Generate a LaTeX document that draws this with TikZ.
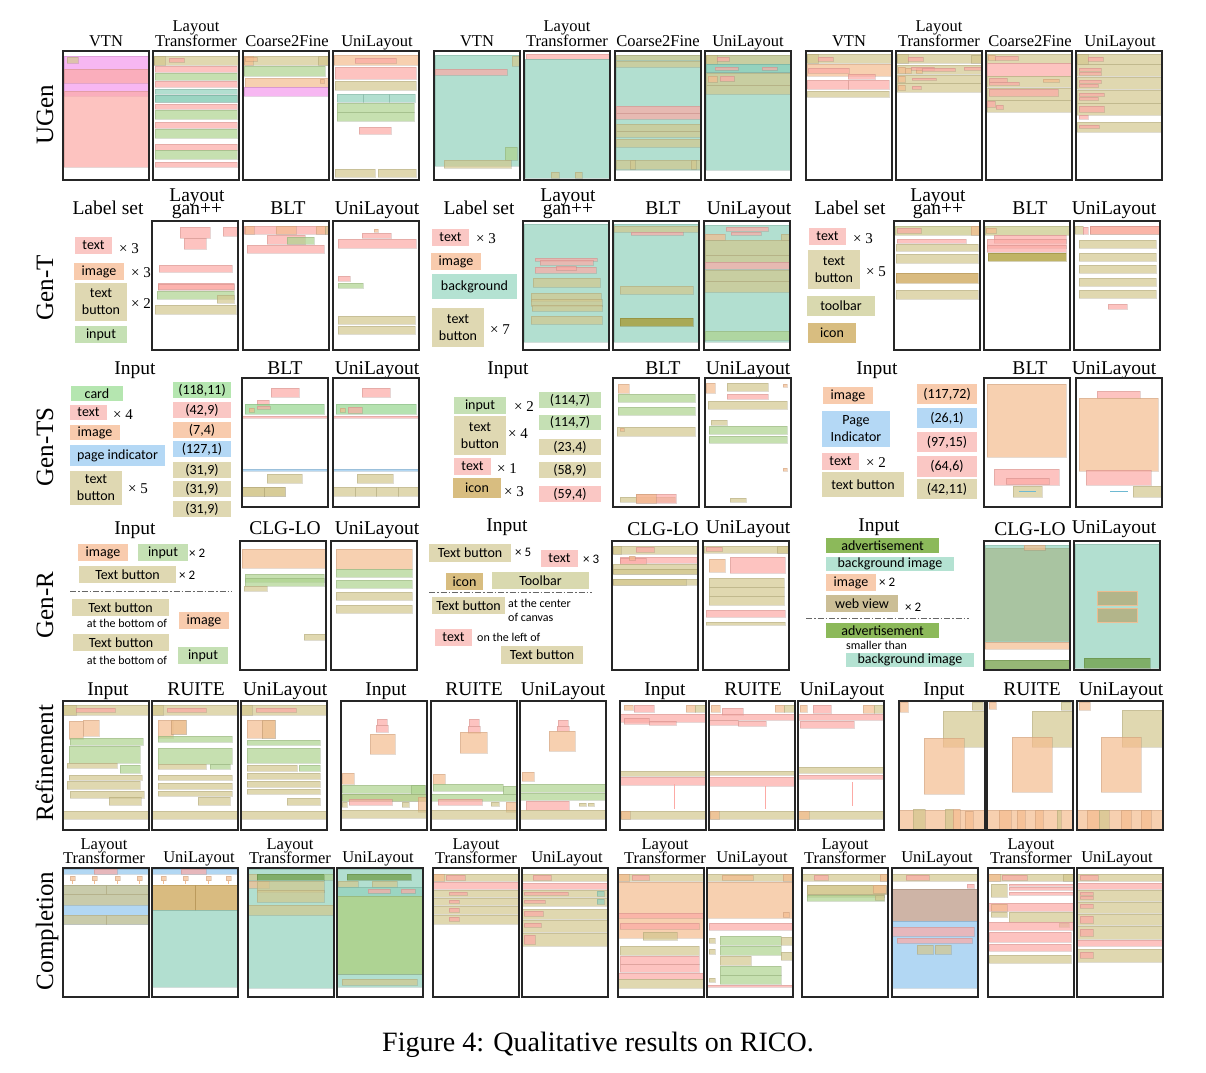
\documentclass[tikz,border=0pt]{standalone}
\usepackage{fontspec}
\setmainfont{Liberation Serif}
\newfontfamily\calibfont{Carlito}
\usetikzlibrary{calc}
\definecolor{bT}{RGB}{252,170,165}
\definecolor{bI}{RGB}{244,188,143}
\definecolor{bB}{RGB}{211,199,142}
\definecolor{bN}{RGB}{174,211,142}
\definecolor{bG}{RGB}{145,209,188}
\definecolor{bC}{RGB}{149,214,142}
\definecolor{bP}{RGB}{146,198,238}
\definecolor{bO}{RGB}{199,199,134}
\definecolor{bK}{RGB}{201,158,74}
\definecolor{bA}{RGB}{106,154,60}
\definecolor{bW}{RGB}{181,164,108}
\definecolor{bM}{RGB}{244,153,236}
\definecolor{bD}{RGB}{165,148,35}
\definecolor{bR}{RGB}{185,148,128}
\definecolor{cT}{RGB}{250,199,196}
\definecolor{cI}{RGB}{248,203,173}
\definecolor{cB}{RGB}{223,216,178}
\definecolor{cN}{RGB}{197,224,180}
\definecolor{cG}{RGB}{180,226,210}
\definecolor{cC}{RGB}{181,230,176}
\definecolor{cP}{RGB}{180,216,245}
\definecolor{cO}{RGB}{217,217,175}
\definecolor{cK}{RGB}{216,189,128}
\definecolor{cA}{RGB}{140,185,90}
\definecolor{cW}{RGB}{203,190,150}
\definecolor{cLO}{RGB}{169,196,161}
\definecolor{lineB}{RGB}{110,185,210}
\newcommand\rr[5]{\path[#1] (#2,#3) rectangle (#4,#5);}
\newcommand\panel[3]{\begin{scope}[shift={(#1,#2)}]#3\end{scope}\draw[frame] (#1,#2) rectangle ++(86,129);}
\newcommand\chip[7]{\node[chipst,fill=#2,minimum width={#5-#3},minimum height={#6-#4}] (#1) at ({(#3+#5)/2},{(#4+#6)/2}) {#7};}
\newcommand\mk[1]{\path[eI] (#1,8) rectangle ++(5,4.5); \draw[draw=bI,line width=0.6pt] (#1+2.5,12.5) -- ++(0,3);}
\begin{document}
\begin{tikzpicture}[x=1pt,y=-1pt,
 frame/.style={draw=black!85,line width=1.3pt},
 el/.style={fill=#1,fill opacity=0.7,draw=#1!70!black,draw opacity=0.3,line width=0.7pt},
 eT/.style={el=bT}, eI/.style={el=bI}, eB/.style={el=bB}, eN/.style={el=bN},
 eG/.style={el=bG}, eC/.style={el=bC}, eP/.style={el=bP}, eO/.style={el=bO},
 eK/.style={el=bK}, eA/.style={el=bA}, eW/.style={el=bW,draw=bI,draw opacity=0.9}, eM/.style={el=bM},
 eD/.style={el=bD}, eR/.style={el=bR}, eL/.style={fill=cLO,draw=cLO!80!black,draw opacity=0.3},
 thinb/.style={draw=lineB,line width=1.2pt},
 ttl/.style={font=\fontsize{16.5}{15}\selectfont,anchor=base,inner sep=0},
 ttlb/.style={font=\fontsize{19.5}{15}\selectfont,anchor=base,inner sep=0},
 rowl/.style={font=\fontsize{25}{25}\selectfont,rotate=90,anchor=base,inner sep=0},
 chipst/.style={font=\calibfont\fontsize{14}{17}\selectfont,inner sep=0,align=center},
 mul/.style={font=\fontsize{15}{15}\selectfont,anchor=base west,inner sep=0},
 muls/.style={font=\calibfont\fontsize{13}{13}\selectfont,anchor=base west,inner sep=0},
 small/.style={font=\calibfont\fontsize{12}{14}\selectfont,anchor=base west,inner sep=0},
 dd/.style={draw=black!60,line width=0.8pt,dash pattern=on 6pt off 2pt on 1.5pt off 2pt},
]
\useasboundingbox (0,0) rectangle (1206,1072);

% ---------- row labels ----------
\node[rowl] (r1) at (53,115) {UGen};
\node[rowl] (r2) at (53,288) {Gen-T};
\node[rowl] (r3) at (53,447) {Gen-TS};
\node[rowl] (r4) at (53,605) {Gen-R};
\node[rowl] (r5) at (53,763) {Refinement};
\node[rowl] (r6) at (53,931) {Completion};

% ---------- row 1 titles ----------
\foreach \g/\o in {a/0,b/371,c/743}{
 \node[ttl] (t1v\g) at (106+\o,46) {VTN};
 \node[ttl] (t1l\g) at (196+\o,31) {Layout};
 \node[ttl] (t1m\g) at (196+\o,46) {Transformer};
 \node[ttl] (t1c\g) at (287+\o,46) {Coarse2Fine};
 \node[ttl] (t1u\g) at (377+\o,46) {UniLayout};
}

% ---------- row 1 panels ----------
\panel{63}{51}{
\rr{eM}{1}{5}{85}{45}
\rr{eT}{1}{18}{85}{32}
\rr{eT}{1}{40}{85}{116}
\rr{eB}{4}{6}{15}{12}
}
\panel{153}{51}{
\rr{eB}{1}{5}{85}{14}
\rr{eB}{1}{5}{12}{14}
\rr{eT}{16}{7}{31}{11}
\rr{eT}{2}{15}{84}{21}
\rr{eN}{2}{22}{84}{29}
\rr{eT}{2}{30}{84}{36}
\rr{eG}{2}{38}{84}{43}
\rr{eG}{2}{44}{84}{51}
\rr{eG}{2}{44}{84}{51}
\rr{eT}{2}{53}{84}{58}
\rr{eN}{2}{59}{84}{68}
\rr{eT}{2}{71}{84}{77}
\rr{eN}{2}{78}{84}{87}
\rr{eT}{2}{93}{84}{99}
\rr{eN}{2}{99}{84}{108}
\rr{eT}{2}{111}{84}{116}
}
\panel{243}{51}{
\rr{eB}{1}{5}{85}{14}
\rr{eI}{1}{5}{10}{14}
\rr{eB}{75}{5}{85}{14}
\rr{eI}{2}{6}{14}{10}
\rr{eN}{1}{15}{82}{25}
\rr{eI}{2}{27}{85}{36}
\rr{eI}{77}{28}{81}{32}
\rr{eM}{1}{36}{86}{45}
}
\panel{333}{51}{
\rr{eI}{1}{4}{86}{14}
\rr{eT}{22}{7}{63}{12}
\rr{eT}{2}{16}{83}{28}
\rr{eB}{2}{30}{83}{39}
\rr{eG}{4}{43}{30}{51}\rr{eG}{30}{43}{56}{51}\rr{eG}{56}{43}{82}{51}
\rr{eN}{4}{52}{81}{61}
\rr{eN}{4}{61}{81}{70}
\rr{eT}{26}{76}{58}{83}
\rr{eB}{2}{118}{42}{126}
\rr{eB}{45}{118}{83}{126}
}
\panel{434}{51}{
\rr{eG}{1}{4}{86}{115}
\rr{eB}{78}{5}{86}{15}
\rr{eT}{1}{18}{73}{24}
\rr{eN}{71}{96}{83}{109}
\rr{eB}{10}{109}{77}{117}
}
\panel{524}{51}{
\rr{eT}{2}{3}{85}{8}
\rr{eG}{1}{8}{86}{127}
\rr{eB}{27}{121}{35}{127}
\rr{eB}{51}{121}{58}{127}
}
\panel{615}{51}{
\rr{eG}{1}{4}{86}{119}
\rr{eB}{1}{4}{86}{9}
\rr{eB}{1}{10}{86}{16}
\rr{eT}{1}{55}{86}{62}
\rr{eT}{1}{62}{86}{68}
\rr{eB}{1}{73}{86}{80}
\rr{eB}{1}{80}{86}{86}
\rr{eB}{1}{88}{86}{96}
\rr{eB}{1}{109}{86}{118}
\rr{eB}{15}{109}{20}{118}
\rr{eB}{76}{109}{81}{118}
}
\panel{705}{51}{
\rr{eG}{1}{4}{86}{119}
\rr{eB}{1}{4}{86}{13}
\rr{eB}{1}{4}{12}{13}
\rr{eT}{12}{6}{24}{10}
\rr{eG}{1}{13}{86}{21}\rr{eG}{1}{13}{86}{21}
\rr{eT}{10}{16}{33}{19}
\rr{eT}{57}{16}{72}{19}
\rr{eB}{1}{22}{86}{34}
\rr{eI}{3}{25}{12}{31}
\rr{eT}{15}{25}{29}{30}
\rr{eB}{1}{34}{86}{43}
}
\panel{806}{51}{
\rr{eB}{1}{3}{86}{12}
\rr{eB}{1}{3}{12}{12}
\rr{eT}{12}{6}{27}{10}
\rr{eI}{1}{13}{86}{25}
\rr{eT}{2}{17}{43}{22}
\rr{eT}{42}{23}{69}{28}
\rr{eT}{1}{29}{42}{38}\rr{eT}{42}{29}{83}{38}
\rr{eB}{1}{40}{83}{46}
}
\panel{896}{51}{
\rr{eB}{1}{3}{86}{12}
\rr{eB}{1}{3}{12}{12}
\rr{eT}{12}{6}{27}{10}
\rr{eB}{75}{4}{86}{12}
\rr{eB}{1}{14}{86}{23}
\rr{eI}{2}{16}{9}{22}\rr{eI}{9}{17}{15}{22}\rr{eI}{20}{17}{26}{22}
\rr{eT}{15}{16}{38}{19}\rr{eT}{26}{17}{59}{20}\rr{eT}{68}{16}{86}{19}
\rr{eB}{1}{24}{86}{32}
\rr{eI}{2}{25}{9}{31}\rr{eT}{16}{27}{40}{29}
\rr{eB}{1}{32}{86}{41}
\rr{eI}{2}{34}{9}{39}\rr{eT}{16}{35}{25}{38}
}
\panel{986}{51}{
\rr{eB}{1}{3}{86}{12}
\rr{eI}{2}{4}{9}{9}\rr{eT}{9}{5}{32}{9}
\rr{eT}{1}{12}{86}{25}
\rr{eB}{1}{25}{86}{36}
\rr{eT}{3}{27}{21}{31}\rr{eT}{3}{31}{33}{34}\rr{eI}{57}{28}{73}{31}
\rr{eB}{1}{37}{86}{49}
\rr{eT}{3}{38}{72}{45}
\rr{eB}{1}{49}{86}{61}
\rr{eT}{1}{50}{9}{56}\rr{eT}{10}{54}{17}{58}
}
\panel{1076}{51}{
\rr{eB}{1}{3}{86}{13}
\rr{eB}{1}{3}{12}{13}
\rr{eT}{12}{6}{27}{10}
\rr{eB}{1}{13}{86}{25}\rr{eT}{3}{17}{25}{20}\rr{eT}{3}{21}{25}{24}
\rr{eB}{1}{26}{86}{38}\rr{eT}{3}{29}{25}{32}\rr{eT}{3}{33}{22}{36}
\rr{eB}{1}{39}{86}{52}\rr{eT}{3}{42}{28}{45}\rr{eT}{3}{46}{22}{49}
\rr{eB}{1}{52}{86}{64}\rr{eT}{3}{55}{28}{61}
\rr{eT}{3}{64}{12}{68}
\rr{eB}{1}{71}{86}{81}\rr{eT}{3}{74}{23}{77}
}

% ---------- row 2 (Gen-T) ----------
\node[ttlb] (t2a1) at (108,214) {Label set};
\node[ttlb] (t2a2) at (197,201) {Layout};
\node[ttlb] (t2a3) at (197,214) {gan++};
\node[ttlb] (t2a4) at (288,214) {BLT};
\node[ttlb] (t2a5) at (377,214) {UniLayout};
\node[ttlb] (t2b1) at (479,214) {Label set};
\node[ttlb] (t2b2) at (568,201) {Layout};
\node[ttlb] (t2b3) at (568,214) {gan++};
\node[ttlb] (t2b4) at (663,214) {BLT};
\node[ttlb] (t2b5) at (749,214) {UniLayout};
\node[ttlb] (t2c1) at (850,214) {Label set};
\node[ttlb] (t2c2) at (938,201) {Layout};
\node[ttlb] (t2c3) at (938,214) {gan++};
\node[ttlb] (t2c4) at (1030,214) {BLT};
\node[ttlb] (t2c5) at (1114,214) {UniLayout};

\chip{gt1a}{cT}{75}{237}{112}{254}{text}
\node[mul] (m1) at (119,253) {× 3};
\chip{gt1b}{cI}{74}{263}{124}{280}{image}
\node[mul] (m2) at (131,277) {× 3};
\chip{gt1c}{cB}{75}{283}{127}{321}{text\\button}
\node[mul] (m3) at (131,308) {× 2};
\chip{gt1d}{cN}{75}{326}{127}{343}{input}

\chip{gt2a}{cT}{432}{229}{469}{246}{text}
\node[mul] (m4) at (476,243) {× 3};
\chip{gt2b}{cI}{431}{253}{481}{270}{image}
\chip{gt2c}{cG}{432}{274}{517}{299}{background}
\chip{gt2d}{cB}{432}{308}{484}{347}{text\\button}
\node[mul] (m5) at (490,334) {× 7};

\chip{gt3a}{cT}{809}{228}{846}{245}{text}
\node[mul] (m6) at (853,243) {× 3};
\chip{gt3b}{cB}{808}{250}{860}{289}{text\\button}
\node[mul] (m7) at (866,276) {× 5};
\chip{gt3c}{cO}{807}{296}{875}{316}{toolbar}
\chip{gt3d}{cK}{808}{323}{856}{343}{icon}

\panel{152}{221}{
\rr{eT}{28}{6}{58}{17}
\rr{eT}{32}{17}{54}{28}
\rr{eT}{71}{6}{86}{15}
\rr{eT}{7}{44}{80}{51}
\rr{eT}{6}{62}{82}{69}\rr{eT}{6}{63}{82}{68}
\rr{eN}{5}{70}{82}{78}
\rr{eB}{65}{74}{82}{82}
\rr{eB}{3}{84}{84}{93}
}
\panel{243}{221}{
\rr{eT}{1}{5}{86}{13}
\rr{eI}{2}{5}{11}{13}\rr{eI}{33}{5}{53}{13}\rr{eI}{73}{5}{82}{13}
\rr{eB}{82}{5}{86}{13}
\rr{eT}{24}{14}{62}{23}
\rr{eN}{44}{16}{71}{23}
\rr{eT}{4}{24}{81}{32}
}
\panel{333}{221}{
\rr{eI}{41}{8}{45}{11}
\rr{eT}{29}{12}{58}{17}
\rr{eT}{5}{18}{83}{27}
\rr{eT}{5}{55}{17}{60}
\rr{eN}{5}{62}{30}{67}
\rr{eB}{5}{95}{82}{103}
\rr{eB}{5}{105}{82}{113}
}
\panel{523}{221}{
\rr{eG}{1}{3}{86}{121}
\rr{eT}{12}{37}{74}{40}
\rr{eT}{17}{39}{70}{44}
\rr{eT}{12}{46}{73}{52}
\rr{eT}{33}{45}{53}{49}
\rr{eB}{10}{57}{77}{66}
\rr{eB}{8}{72}{78}{80}
\rr{eB}{8}{78}{79}{85}
\rr{eB}{9}{84}{79}{90}
\rr{eB}{8}{95}{79}{103}
}
\panel{613}{221}{
\rr{eG}{1}{3}{86}{121}
\rr{eB}{1}{5}{86}{11}
\rr{eT}{18}{11}{70}{14}
\rr{eB}{7}{65}{80}{73}
\rr{eD}{7}{97}{80}{105}
}
\panel{704}{221}{
\rr{eG}{1}{4}{86}{121}
\rr{eT}{22}{6}{64}{10}
\rr{eT}{27}{11}{57}{14}
\rr{eI}{1}{13}{21}{19}
\rr{eB}{77}{13}{86}{19}
\rr{eB}{1}{19}{86}{34}
\rr{eB}{1}{34}{86}{41}
\rr{eT}{1}{41}{86}{48}
\rr{eB}{1}{49}{86}{60}
\rr{eB}{1}{60}{86}{71}
\rr{eN}{1}{110}{86}{119}
}
\panel{894}{221}{
\rr{eO}{1}{5}{86}{14}
\rr{eT}{3}{7}{27}{12}
\rr{eI}{77}{5}{86}{14}
\rr{eT}{3}{18}{72}{22}
\rr{eB}{2}{23}{84}{30}
\rr{eB}{2}{33}{84}{42}
\rr{eK}{2}{52}{84}{62}
\rr{eB}{2}{69}{84}{78}
}
\panel{984}{221}{
\rr{eO}{1}{5}{86}{14}
\rr{eI}{2}{7}{12}{12}
\rr{eT}{10}{14}{82}{22}
\rr{eT}{3}{18}{82}{27}
\rr{eT}{3}{24}{82}{31}
\rr{eD}{4}{32}{82}{40}
}
\panel{1074}{221}{
\rr{eB}{1}{5}{9}{13}
\rr{eI}{16}{5}{86}{13}\rr{eT}{16}{5}{86}{13}
\rr{eT}{9}{6}{14}{13}
\rr{eB}{5}{19}{82}{27}
\rr{eB}{5}{32}{82}{40}
\rr{eB}{5}{44}{82}{52}
\rr{eB}{5}{57}{82}{65}
\rr{eB}{5}{69}{82}{77}
\rr{eT}{34}{83}{53}{88}
}

% ---------- row 3 (Gen-TS) ----------
\node[ttlb] (t3a1) at (135,374) {Input};
\node[ttlb] (t3a2) at (285,374) {BLT};
\node[ttlb] (t3a3) at (377,374) {UniLayout};
\node[ttlb] (t3b1) at (508,374) {Input};
\node[ttlb] (t3b2) at (663,374) {BLT};
\node[ttlb] (t3b3) at (748,374) {UniLayout};
\node[ttlb] (t3c1) at (877,374) {Input};
\node[ttlb] (t3c2) at (1030,374) {BLT};
\node[ttlb] (t3c3) at (1114,374) {UniLayout};

\chip{ts1a}{cC}{71}{386}{123}{401}{card}
\chip{ts1b}{cT}{70}{405}{107}{420}{text}
\node[mul] (m8) at (113,419) {× 4};
\chip{ts1c}{cI}{70}{425}{120}{440}{image}
\chip{ts1d}{cP}{70}{445}{165}{466}{page indicator}
\chip{ts1e}{cB}{70}{471}{122}{505}{text\\button}
\node[mul] (m9) at (128,493) {× 5};
\chip{ts1f}{cC}{173}{382}{231}{398}{(118,11)}
\chip{ts1g}{cT}{173}{402}{231}{418}{(42,9)}
\chip{ts1h}{cI}{173}{422}{231}{438}{(7,4)}
\chip{ts1i}{cP}{173}{441}{231}{457}{(127,1)}
\chip{ts1j}{cB}{173}{462}{231}{478}{(31,9)}
\chip{ts1k}{cB}{173}{481}{231}{497}{(31,9)}
\chip{ts1l}{cB}{173}{501}{231}{517}{(31,9)}

\chip{ts2a}{cN}{454}{397}{506}{414}{input}
\node[mul] (m10) at (514,411) {× 2};
\chip{ts2b}{cB}{454}{416}{506}{455}{text\\button}
\node[mul] (m11) at (508,438) {× 4};
\chip{ts2c}{cT}{454}{458}{491}{475}{text}
\node[mul] (m12) at (497,473) {× 1};
\chip{ts2d}{cK}{453}{478}{501}{498}{icon}
\node[mul] (m13) at (504,496) {× 3};
\chip{ts2e}{cN}{539}{392}{601}{408}{(114,7)}
\chip{ts2f}{cN}{539}{415}{601}{430}{(114,7)}
\chip{ts2g}{cB}{539}{439}{601}{455}{(23,4)}
\chip{ts2h}{cB}{539}{462}{601}{478}{(58,9)}
\chip{ts2i}{cT}{539}{486}{601}{502}{(59,4)}

\chip{ts3a}{cI}{823}{387}{873}{404}{image}
\chip{ts3b}{cP}{822}{411}{890}{447}{Page\\Indicator}
\chip{ts3c}{cT}{822}{453}{859}{470}{text}
\node[mul] (m14) at (866,467) {× 2};
\chip{ts3d}{cB}{822}{472}{904}{497}{text button}
\chip{ts3e}{cI}{917}{384}{977}{404}{(117,72)}
\chip{ts3f}{cP}{917}{408}{977}{428}{(26,1)}
\chip{ts3g}{cT}{917}{432}{977}{452}{(97,15)}
\chip{ts3h}{cT}{917}{456}{977}{477}{(64,6)}
\chip{ts3i}{cB}{917}{479}{977}{499}{(42,11)}

\panel{242}{378}{
\rr{eT}{29}{10}{57}{19}
\rr{eT}{15}{22}{27}{27}
\rr{eC}{3}{26}{82}{36}
\rr{eI}{7}{30}{12}{34}
\rr{eT}{15}{28}{28}{31}
\rr{eT}{0}{38}{86}{40}
\rr{eP}{0}{91}{86}{93}
\rr{eB}{25}{96}{60}{105}
\rr{eB}{0}{109}{22}{118}\rr{eB}{0}{109}{22}{118}
\rr{eB}{22}{109}{43}{118}\rr{eB}{22}{109}{43}{118}
}
\panel{333}{378}{
\rr{eT}{29}{10}{57}{19}
\rr{eC}{3}{26}{83}{36}
\rr{eI}{7}{30}{12}{34}
\rr{eT}{15}{29}{29}{35}
\rr{eT}{0}{38}{86}{40}
\rr{eP}{0}{91}{86}{93}
\rr{eB}{24}{96}{60}{105}
\rr{eB}{0}{109}{22}{118}\rr{eB}{22}{109}{43}{118}\rr{eB}{43}{109}{65}{118}\rr{eB}{65}{109}{86}{118}
}
\panel{613}{378}{
\rr{eI}{5}{6}{16}{15}
\rr{eN}{5}{16}{82}{24}
\rr{eN}{5}{29}{82}{37}
\rr{eB}{4}{49}{82}{58}
\rr{eI}{7}{50}{11}{53}
\rr{eB}{7}{119}{62}{124}
\rr{eT}{23}{116}{63}{125}\rr{eI}{23}{116}{43}{125}
}
\panel{705}{378}{
\rr{eI}{1}{5}{10}{15}
\rr{eB}{22}{5}{63}{13}
\rr{eT}{22}{16}{63}{21}
\rr{eB}{3}{23}{82}{31}
\rr{eB}{6}{42}{22}{47}
\rr{eN}{4}{48}{82}{56}
\rr{eN}{4}{58}{82}{65}
\rr{eI}{78}{6}{82}{9}
\rr{eI}{78}{90}{82}{93}
\rr{eB}{25}{120}{41}{124}
}
\panel{984}{378}{
\rr{eI}{3}{6}{82}{79}
\rr{eT}{10}{91}{75}{107}
\rr{eT}{22}{100}{65}{106}
\rr{eB}{29}{108}{58}{119}
\draw[thinb] (35,113.5) -- (52,113.5);
}
\panel{1076}{378}{
\rr{eT}{21}{13}{64}{20}
\rr{eI}{3}{20}{82}{93}
\rr{eT}{10}{92}{75}{107}
\draw[thinb] (34,113.5) -- (52,113.5);
\rr{eB}{57}{108}{86}{119}
}

% ---------- row 4 (Gen-R) ----------
\node[ttlb] (t4a1) at (135,534) {Input};
\node[ttlb] (t4a2) at (285,534) {CLG-LO};
\node[ttlb] (t4a3) at (377,534) {UniLayout};
\node[ttlb] (t4b1) at (507,531) {Input};
\node[ttlb] (t4b2) at (663,535) {CLG-LO};
\node[ttlb] (t4b3) at (748,533) {UniLayout};
\node[ttlb] (t4c1) at (879,531) {Input};
\node[ttlb] (t4c2) at (1030,535) {CLG-LO};
\node[ttlb] (t4c3) at (1114,533) {UniLayout};

\chip{gr1a}{cI}{78}{544}{128}{561}{image}
\chip{gr1b}{cN}{138}{544}{188}{561}{input}
\node[muls] (m15) at (189,557) {× 2};
\chip{gr1c}{cB}{79}{566}{176}{583}{Text button}
\node[muls] (m16) at (179,579) {× 2};
\coordinate (d1a) at (70,591); \coordinate (d1b) at (232,591);
\draw[dd] (d1a) -- (d1b);
\chip{gr1d}{cB}{72}{599}{169}{616}{Text button}
\node[small,anchor=base] (s1) at (127,627) {at the bottom of};
\chip{gr1e}{cI}{179}{612}{229}{629}{image}
\chip{gr1f}{cB}{73}{634}{169}{651}{Text button}
\node[small,anchor=base] (s2) at (127,664) {at the bottom of};
\chip{gr1g}{cN}{178}{647}{228}{664}{input}

\chip{gr2a}{cB}{429}{544}{511}{562}{Text button}
\node[muls] (m17) at (515,556) {× 5};
\chip{gr2b}{cT}{541}{550}{578}{567}{text}
\node[muls] (m18) at (583,563) {× 3};
\chip{gr2c}{cK}{446}{573}{483}{590}{icon}
\chip{gr2d}{cO}{492}{572}{589}{589}{Toolbar}
\coordinate (d2a) at (429,592); \coordinate (d2b) at (592,592);
\draw[dd] (d2a) -- (d2b);
\chip{gr2e}{cB}{432}{597}{505}{614}{Text button}
\node[small] (s3) at (508,607) {at the center};
\node[small] (s4) at (508,621) {of canvas};
\chip{gr2f}{cT}{435}{629}{472}{646}{text}
\node[small] (s5) at (477,641) {on the left of};
\chip{gr2g}{cB}{501}{646}{583}{664}{Text button}

\chip{gr3a}{cA}{826}{538}{939}{553}{advertisement}
\chip{gr3b}{cG}{826}{557}{954}{571}{background image}
\chip{gr3c}{cI}{826}{574}{876}{591}{image}
\node[muls] (m19) at (879,586) {× 2};
\chip{gr3d}{cW}{826}{595}{898}{612}{web view}
\node[muls] (m20) at (905,611) {× 2};
\coordinate (d3a) at (806,618); \coordinate (d3b) at (969,618);
\draw[dd] (d3a) -- (d3b);
\chip{gr3e}{cA}{826}{623}{939}{638}{advertisement}
\node[small] (s6) at (846,649) {smaller than};
\chip{gr3f}{cG}{846}{653}{974}{667}{background image}

\panel{240}{541}{
\rr{eI}{2}{8}{86}{27}
\rr{eN}{5}{33}{84}{41}
\rr{eN}{5}{37}{84}{45}
\rr{eB}{4}{45}{27}{50}
\rr{eB}{64}{93}{85}{99}
}
\panel{331}{541}{
\rr{eI}{5}{8}{81}{28}
\rr{eN}{5}{28}{81}{36}
\rr{eN}{5}{39}{81}{47}
\rr{eB}{5}{51}{81}{59}
\rr{eB}{5}{64}{81}{72}
}
\panel{612}{541}{
\rr{eB}{1}{5}{86}{13}
\rr{eB}{1}{5}{9}{13}
\rr{eT}{24}{6}{42}{11}
\rr{eT}{8}{16}{86}{22}
\rr{eT}{8}{17}{34}{23}
\rr{eI}{17}{15}{23}{19}
\rr{eB}{1}{23}{86}{28}
\rr{eB}{1}{28}{86}{33}\rr{eB}{1}{28}{86}{33}
\rr{eB}{1}{38}{86}{44}
\rr{eB}{1}{38}{74}{44}
}
\panel{703}{541}{
\rr{eB}{1}{5}{86}{12}
\rr{eT}{3}{6}{19}{10}
\rr{eB}{74}{5}{86}{12}
\rr{eI}{6}{18}{22}{31}
\rr{eT}{27}{16}{82}{32}
\rr{eB}{6}{37}{81}{46}
\rr{eB}{6}{46}{81}{55}
\rr{eB}{6}{55}{81}{64}
\rr{eT}{3}{69}{82}{76}
\rr{eB}{3}{81}{82}{84}
}
\panel{984}{541}{
\rr{eG}{1}{4}{86}{101}
\rr{eL}{1}{7}{86}{100}
\rr{eI}{40}{4}{61}{9}
\rr{eI}{1}{101}{86}{108}
\rr{eA}{1}{119}{86}{128}
}
\panel{1074}{541}{
\rr{eG}{1}{3}{86}{127}
\rr{eW}{23}{50}{63}{64}
\rr{eW}{23}{67}{63}{81}
\rr{eA}{10}{117}{76}{127}
}

% ---------- row 5 (Refinement) ----------
\foreach \n/\x in {a/63,b/341,c/620,d/899}{
 \node[ttlb] (t5\n1) at (\x+45,695) {Input};
 \node[ttlb] (t5\n2) at (\x+133,695) {RUITE};
 \node[ttlb] (t5\n3) at (\x+222,695) {UniLayout};
}
\panel{63}{701}{
\rr{eB}{0}{4}{86}{14}\rr{eB}{0}{4}{13}{14}\rr{eT}{13}{7}{52}{11}
\rr{eI}{6}{20}{20}{38}\rr{eI}{20}{19}{36}{35}
\rr{eN}{7}{37}{80}{44}
\rr{eN}{6}{45}{77}{62}
\rr{eB}{4}{62}{54}{67}
\rr{eN}{57}{64}{77}{72}
\rr{eB}{6}{74}{79}{79}
\rr{eB}{4}{80}{77}{88}
\rr{eB}{7}{90}{81}{97}
\rr{eB}{46}{96}{78}{104}
\rr{eB}{0}{110}{86}{118}
}
\panel{152}{701}{
\rr{eB}{0}{4}{86}{14}\rr{eB}{0}{4}{11}{14}\rr{eT}{15}{7}{54}{11}
\rr{eI}{6}{19}{21}{37}\rr{eB}{19}{19}{34}{33}\rr{eI}{19}{19}{34}{33}
\rr{eN}{6}{35}{80}{41}
\rr{eN}{6}{47}{80}{63}
\rr{eB}{6}{63}{54}{68}\rr{eN}{58}{63}{78}{68}
\rr{eB}{6}{74}{80}{79}\rr{eB}{6}{82}{80}{88}\rr{eB}{6}{90}{80}{95}
\rr{eB}{46}{96}{78}{104}
\rr{eB}{0}{110}{86}{118}
}
\panel{241}{701}{
\rr{eB}{0}{4}{86}{14}\rr{eB}{0}{4}{11}{14}\rr{eT}{15}{7}{55}{11}
\rr{eI}{6}{19}{21}{37}\rr{eB}{21}{19}{34}{37}\rr{eI}{21}{19}{34}{37}
\rr{eN}{6}{39}{79}{44}
\rr{eN}{6}{47}{79}{62}
\rr{eB}{6}{64}{56}{70}\rr{eN}{58}{64}{79}{70}
\rr{eB}{6}{72}{79}{78}\rr{eB}{6}{80}{79}{86}\rr{eB}{6}{88}{79}{93}
\rr{eB}{46}{97}{79}{104}
\rr{eB}{0}{110}{86}{118}
}
\panel{341}{701}{
\rr{eT}{36}{18}{46}{24}\rr{eT}{35}{24}{47}{31}
\rr{eI}{29}{33}{54}{53}
\rr{eI}{1}{72}{13}{83}
\rr{eN}{1}{84}{84}{92}\rr{eN}{70}{84}{84}{93}
\rr{eB}{1}{93}{86}{100}\rr{eN}{1}{93}{86}{100}
\rr{eT}{8}{98}{51}{104}
\rr{eB}{1}{101}{6}{106}\rr{eB}{61}{101}{68}{106}
\rr{eI}{77}{96}{86}{111}
\rr{eB}{0}{109}{86}{117}
}
\panel{431}{701}{
\rr{eT}{38}{18}{48}{25}\rr{eT}{37}{25}{49}{32}
\rr{eI}{29}{31}{56}{52}
\rr{eI}{2}{73}{14}{83}
\rr{eN}{2}{83}{72}{90}\rr{eN}{72}{85}{86}{93}
\rr{eN}{0}{93}{86}{100}
\rr{eT}{7}{98}{51}{104}
\rr{eB}{60}{101}{68}{105}
\rr{eI}{75}{101}{86}{111}
\rr{eB}{0}{109}{86}{118}
}
\panel{520}{701}{
\rr{eT}{38}{19}{48}{25}\rr{eT}{37}{25}{49}{30}
\rr{eI}{29}{30}{55}{50}
\rr{eI}{2}{71}{14}{80}
\rr{eN}{0}{83}{86}{91}
\rr{eN}{0}{92}{86}{99}
\rr{eT}{6}{100}{49}{109}
\rr{eB}{59}{102}{66}{105}\rr{eB}{68}{102}{74}{105}
\rr{eB}{0}{109}{86}{118}
}
\panel{620}{701}{
\rr{eI}{4}{4}{13}{9}\rr{eT}{14}{4}{34}{11}\rr{eI}{66}{4}{75}{11}\rr{eB}{75}{4}{86}{11}
\rr{eT}{0}{13}{86}{21}
\rr{eT}{4}{17}{29}{23}\rr{eT}{29}{20}{56}{24}
\rr{eB}{0}{70}{86}{75}
\rr{eT}{0}{76}{86}{84}
\draw[draw=bT,line width=0.6pt] (54,83) -- (54,108);
\rr{eB}{0}{110}{86}{118}\rr{eI}{1}{110}{10}{118}
}
\panel{709}{701}{
\rr{eI}{2}{4}{11}{11}\rr{eT}{13}{7}{34}{14}\rr{eI}{66}{4}{75}{11}\rr{eB}{75}{4}{86}{11}
\rr{eT}{0}{13}{86}{19}
\rr{eT}{0}{19}{29}{24}\rr{eT}{29}{20}{57}{25}
\rr{eB}{0}{70}{86}{74}
\rr{eT}{0}{76}{86}{85}
\draw[draw=bT,line width=0.6pt] (56,85) -- (56,108);
\rr{eB}{0}{110}{86}{118}\rr{eI}{1}{110}{10}{118}
}
\panel{798}{701}{
\rr{eI}{2}{4}{9}{11}\rr{eT}{15}{4}{33}{12}\rr{eI}{65}{4}{76}{12}\rr{eB}{76}{4}{86}{12}
\rr{eT}{0}{13}{86}{19}
\rr{eT}{2}{20}{56}{27}
\rr{eB}{0}{66}{86}{72}
\rr{eT}{0}{74}{86}{78}
\draw[draw=bT,line width=0.6pt] (54,81) -- (54,105);
\rr{eB}{0}{110}{86}{118}\rr{eI}{0}{110}{11}{118}
}
\panel{899}{701}{
\rr{eI}{1}{1}{9}{11}\rr{eB}{73}{1}{84}{9}
\rr{eB}{44}{10}{85}{46}
\rr{eI}{25}{37}{65}{93}
\rr{eI}{0}{109}{86}{128}
\rr{eB}{14}{108}{26}{128}\rr{eB}{46}{108}{54}{128}\rr{eI}{54}{108}{61}{128}\rr{eI}{66}{110}{74}{128}
}
\panel{987}{701}{
\rr{eI}{2}{1}{9}{8}\rr{eB}{74}{1}{84}{9}
\rr{eB}{45}{10}{86}{46}
\rr{eI}{25}{36}{65}{91}
\rr{eI}{0}{109}{86}{128}
\rr{eI}{12}{109}{24}{128}\rr{eI}{30}{109}{38}{128}\rr{eI}{48}{109}{56}{128}\rr{eB}{70}{109}{74}{128}
}
\panel{1077}{701}{
\rr{eI}{2}{1}{13}{9}
\rr{eB}{45}{9}{86}{46}
\rr{eI}{24}{36}{64}{91}
\rr{eI}{0}{109}{86}{128}
\rr{eI}{10}{109}{22}{128}\rr{eB}{22}{109}{32}{128}\rr{eI}{44}{109}{54}{128}\rr{eI}{64}{109}{74}{128}
}

% ---------- row 6 (Completion) ----------
\foreach \n/\a/\b in {a/104/199,b/290/378,c/476/567,d/665/752,e/845/937,f/1031/1117}{
 \node[ttl] (t6\n1) at (\a,849) {Layout};
 \node[ttl] (t6\n2) at (\a,863) {Transformer};
 \node[ttl] (t6\n3) at (\b,862) {UniLayout};
}
\panel{63}{868}{
\rr{eP}{0}{1}{86}{6}\rr{eT}{31}{1}{54}{6}
\mk{7}\mk{29}\mk{52}\mk{74}
\rr{eP}{0}{17}{86}{56}
\rr{eB}{0}{17}{43}{26}\rr{eB}{43}{17}{86}{26}
\rr{eB}{0}{26}{86}{37}
\rr{eB}{0}{47}{43}{56}\rr{eB}{43}{47}{86}{56}
}
\panel{152}{868}{
\rr{eP}{0}{1}{86}{6}\rr{eT}{29}{1}{54}{6}
\mk{9}\mk{31}\mk{54}\mk{74}
\rr{eK}{0}{17}{43}{42}\rr{eK}{43}{17}{86}{42}
\rr{eG}{0}{42}{86}{119}
}
\panel{248}{868}{
\rr{eG}{0}{1}{86}{120}
\rr{eB}{0}{6}{9}{12}\rr{eA}{9}{6}{76}{12}\rr{eN}{76}{6}{86}{12}
\rr{eI}{0}{13}{21}{20}
\rr{eB}{9}{13}{76}{24}
\rr{eB}{9}{22}{76}{34}
\rr{eB}{0}{37}{86}{47}
}
\panel{337}{868}{
\rr{eG}{0}{1}{86}{119}
\rr{eA}{10}{6}{74}{12}
\rr{eB}{1}{13}{21}{19}\rr{eB}{35}{13}{60}{19}
\rr{eG}{0}{19}{86}{28}\rr{eT}{31}{21}{53}{25}\rr{eT}{64}{21}{78}{25}
\rr{eN}{0}{28}{86}{106}\rr{eN}{0}{28}{86}{106}
\rr{eB}{5}{111}{80}{117}
}
\panel{433}{868}{
\rr{eB}{0}{6}{86}{13}\rr{eI}{0}{6}{11}{13}\rr{eT}{13}{7}{32}{12}
\rr{eT}{0}{14}{86}{21}
\rr{eB}{0}{22}{86}{29}\rr{eT}{16}{24}{34}{27}
\rr{eB}{0}{30}{86}{37}\rr{eT}{16}{32}{26}{35}
\rr{eB}{0}{38}{86}{46}\rr{eT}{16}{40}{26}{44}
\rr{eB}{0}{47}{86}{56}\rr{eT}{16}{49}{26}{53}
}
\panel{522}{868}{
\rr{eB}{0}{6}{86}{13}\rr{eT}{11}{7}{29}{12}
\rr{eT}{0}{15}{86}{21}
\rr{eB}{0}{22}{86}{29}\rr{eT}{2}{24}{46}{27}\rr{eG}{75}{23}{82}{28}
\rr{eB}{0}{30}{86}{38}\rr{eT}{2}{32}{23}{35}\rr{eG}{75}{31}{82}{36}
\rr{eB}{0}{41}{86}{51}\rr{eT}{2}{43}{21}{48}
\rr{eB}{0}{52}{86}{64}\rr{eT}{2}{55}{19}{59}
\rr{eB}{0}{65}{86}{78}\rr{eT}{2}{67}{13}{76}
}
\panel{618}{868}{
\rr{eB}{0}{6}{86}{13}\rr{eI}{0}{6}{11}{13}\rr{eT}{14}{7}{31}{12}
\rr{eI}{0}{14}{86}{70}
\rr{eT}{0}{45}{86}{50}
\rr{eT}{2}{55}{81}{61}
\rr{eB}{25}{64}{59}{72}
\rr{eB}{2}{78}{81}{87}
\rr{eT}{2}{88}{81}{96}\rr{eT}{2}{96}{81}{104}
\rr{eT}{0}{105}{86}{111}
\rr{eB}{0}{111}{86}{120}
}
\panel{707}{868}{
\rr{eB}{0}{6}{86}{13}\rr{eI}{15}{7}{46}{12}\rr{eI}{76}{6}{86}{13}
\rr{eI}{0}{14}{86}{50}\rr{eI}{76}{44}{82}{49}
\rr{eT}{2}{55}{85}{62}
\rr{eN}{13}{68}{74}{77}\rr{eN}{13}{78}{74}{87}
\rr{eB}{13}{88}{44}{97}
\rr{eN}{13}{98}{74}{107}\rr{eN}{13}{107}{74}{116}
\rr{eB}{2}{70}{8}{75}\rr{eB}{2}{81}{8}{86}\rr{eB}{2}{110}{8}{114}
\rr{eB}{74}{69}{85}{77}\rr{eB}{74}{84}{85}{92}
\rr{eT}{0}{117}{86}{119}
}
\panel{802}{868}{
\rr{eB}{0}{6}{86}{13}\rr{eT}{12}{7}{26}{12}\rr{eI}{78}{6}{86}{13}
\rr{eB}{5}{17}{84}{26}\rr{eB}{5}{17}{84}{26}\rr{eI}{71}{17}{84}{25}
\rr{eB}{5}{26}{82}{29}
\rr{eN}{5}{27}{82}{33}\rr{eB}{73}{27}{82}{32}
}
\panel{892}{868}{
\rr{eB}{0}{6}{86}{13}\rr{eT}{14}{7}{37}{12}
\rr{eT}{75}{16}{82}{20}
\rr{eR}{0}{21}{86}{53}
\rr{eP}{0}{53}{86}{120}
\rr{eT}{0}{59}{82}{68}\rr{eT}{5}{70}{80}{75}
\rr{eB}{25}{77}{41}{86}\rr{eB}{43}{77}{59}{86}
}
\panel{988}{868}{
\rr{eB}{0}{6}{86}{13}\rr{eI}{0}{6}{12}{13}\rr{eT}{14}{7}{39}{12}\rr{eB}{75}{6}{86}{13}
\rr{eB}{3}{16}{19}{29}
\rr{eT}{21}{16}{85}{18}\rr{eT}{21}{19}{85}{22}\rr{eT}{21}{24}{85}{27}
\rr{eT}{0}{35}{86}{43}\rr{eI}{3}{36}{19}{43}
\rr{eB}{3}{44}{19}{49}
\rr{eB}{21}{44}{86}{54}
\rr{eN}{71}{55}{81}{59}
\rr{eT}{0}{54}{86}{62}
\rr{eT}{1}{64}{83}{74}
\rr{eT}{1}{76}{83}{83}
\rr{eB}{1}{87}{83}{95}
}
\panel{1077}{868}{
\rr{eB}{0}{6}{86}{13}\rr{eT}{3}{7}{21}{12}
\rr{eT}{0}{15}{86}{21}
\rr{eB}{0}{22}{86}{33}\rr{eT}{3}{24}{16}{27}\rr{eT}{3}{28}{16}{31}
\rr{eB}{0}{34}{86}{45}\rr{eT}{3}{36}{16}{40}
\rr{eB}{0}{46}{86}{57}\rr{eT}{3}{48}{16}{55}
\rr{eB}{0}{58}{86}{71}\rr{eT}{3}{61}{16}{68}
\rr{eT}{0}{72}{86}{78}
\rr{eB}{0}{81}{86}{94}\rr{eT}{3}{84}{16}{90}
}

% ---------- caption ----------
\node[font=\fontsize{28}{28}\selectfont,anchor=base,inner sep=0] (cap) at (598,1051) {Figure 4: Qualitative results on RICO.};
\end{tikzpicture}
\end{document}
